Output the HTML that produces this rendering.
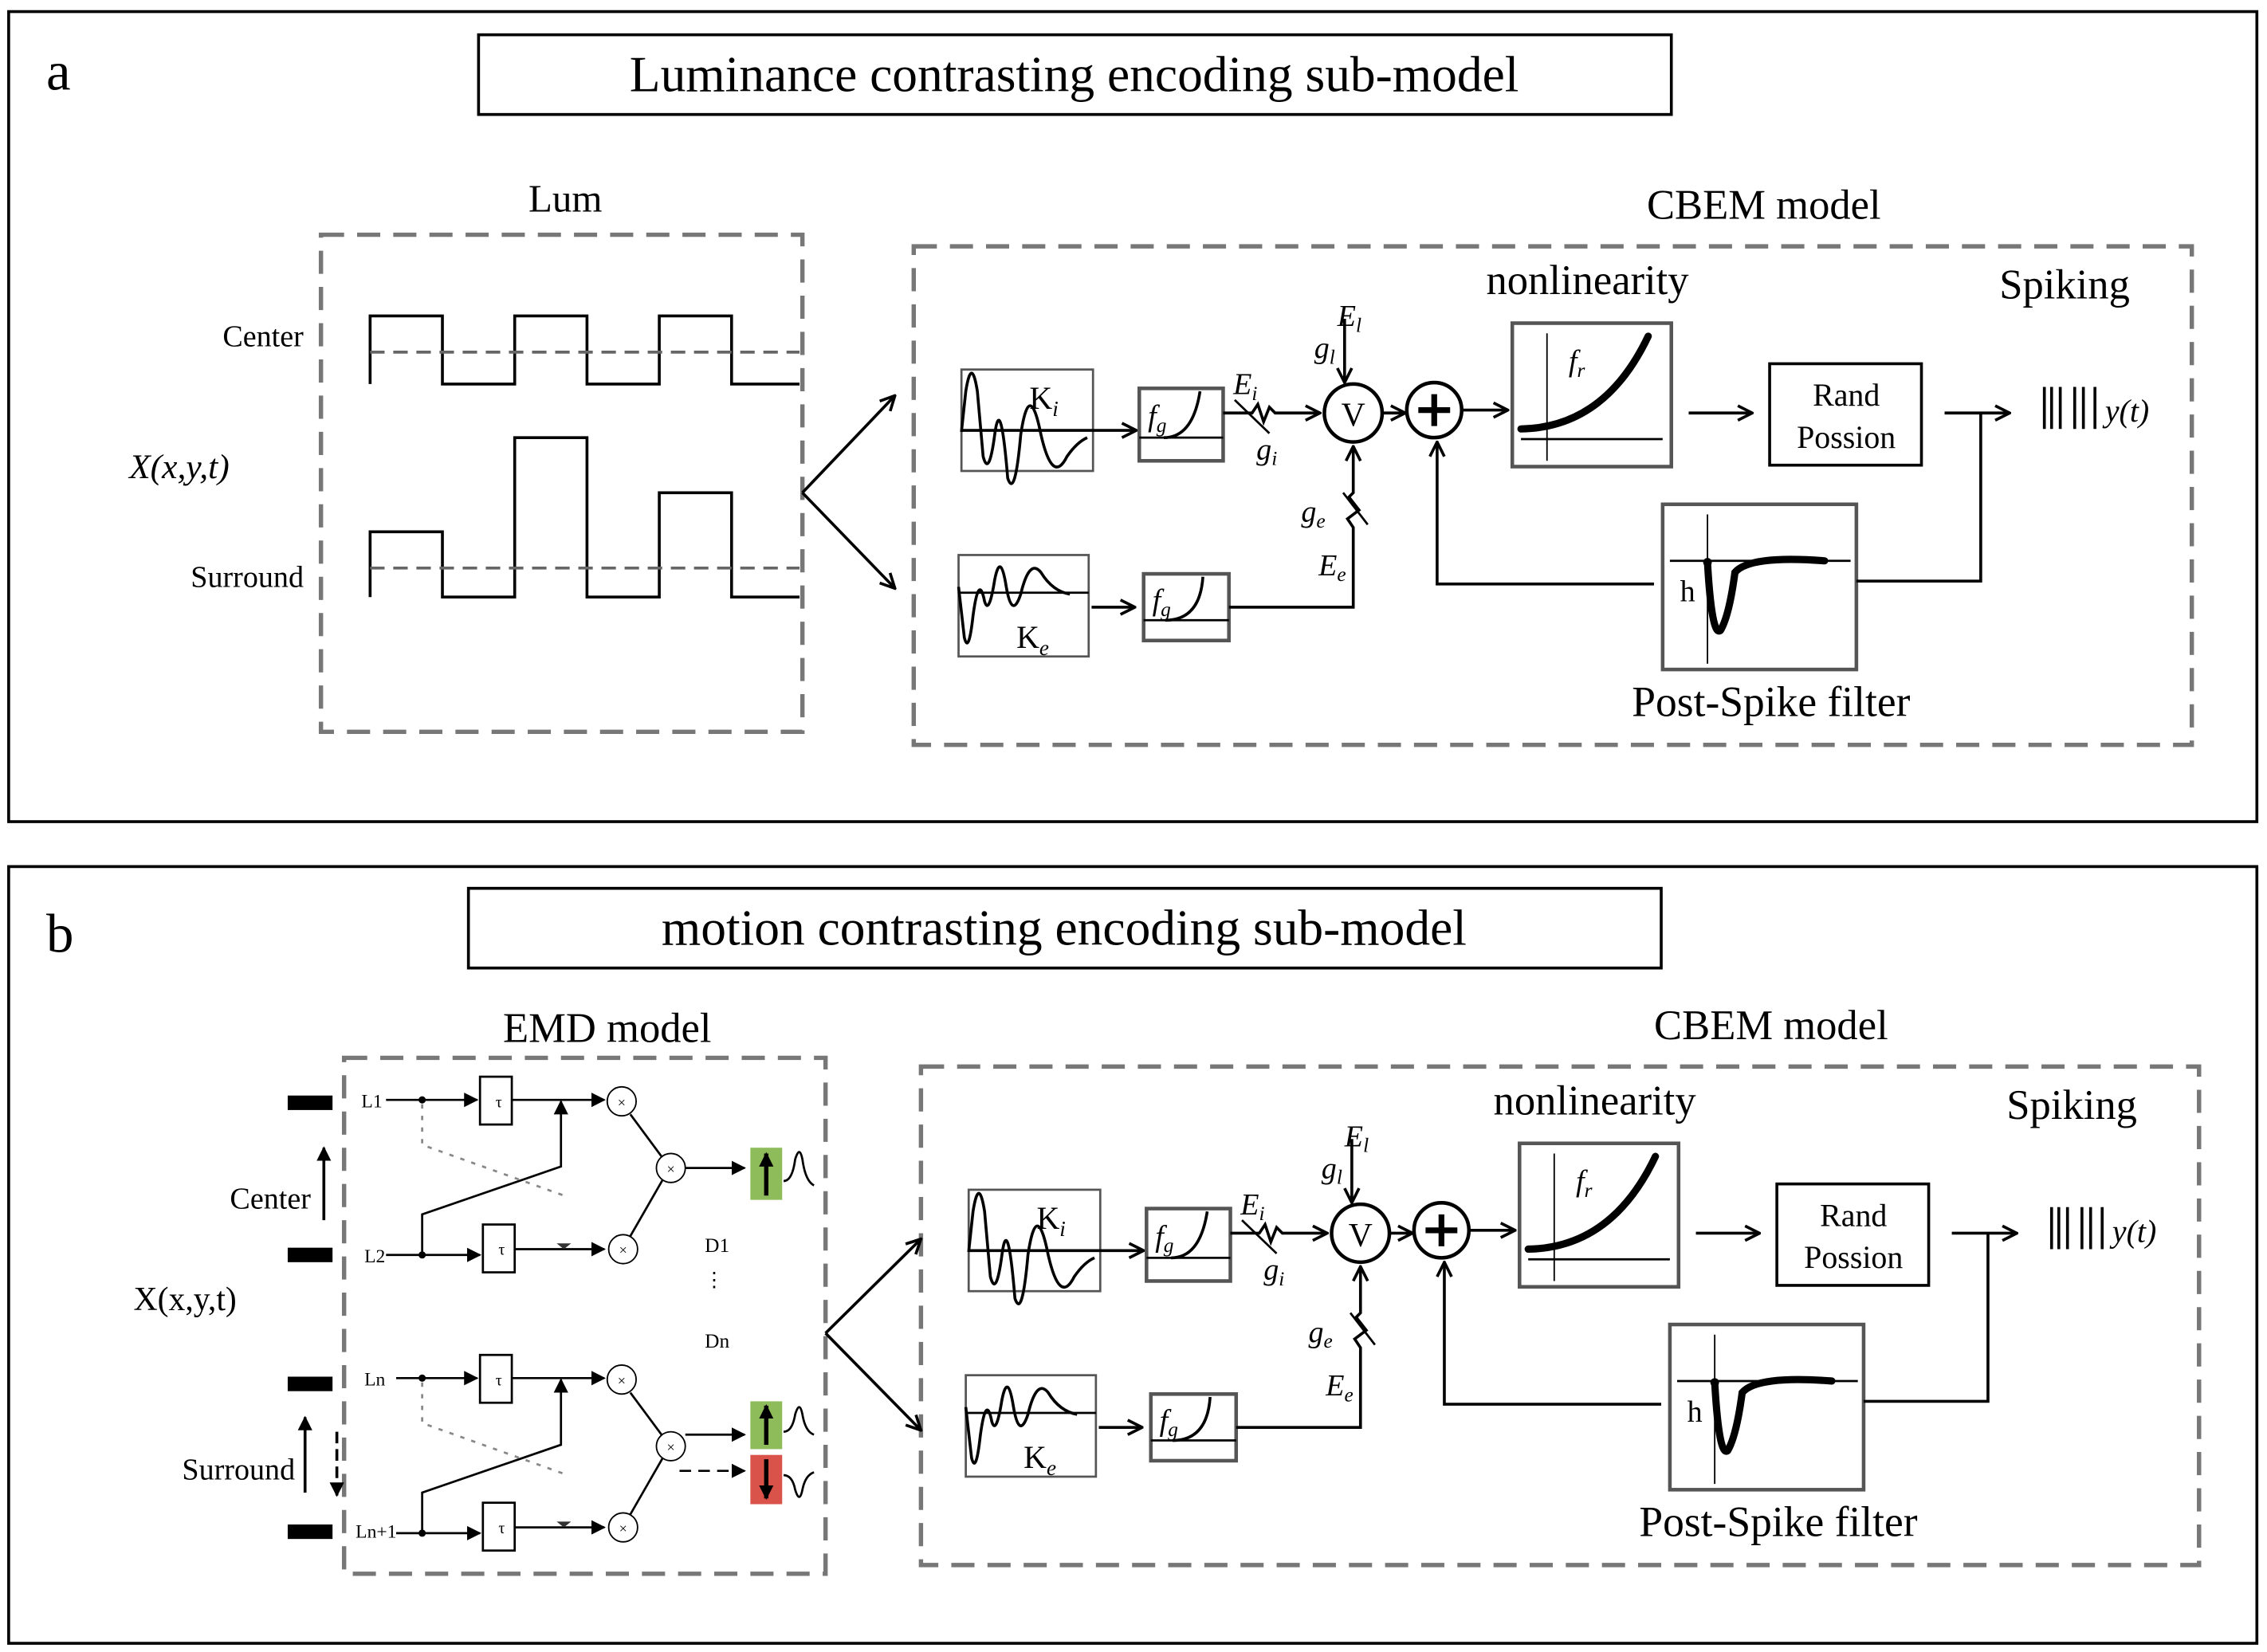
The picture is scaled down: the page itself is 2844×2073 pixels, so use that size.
<!DOCTYPE html>
<html><head><meta charset="utf-8"><style>
html,body{margin:0;padding:0;background:#fff;}
svg{display:block;}
text{font-family:"Liberation Serif",serif;fill:#000;}
</style></head><body>
<svg width="2844" height="2073" viewBox="0 0 1568 1140" preserveAspectRatio="none" xmlns="http://www.w3.org/2000/svg">
<defs>
<marker id="oa" viewBox="0 0 12 12" refX="11" refY="6" markerWidth="12" markerHeight="12" markerUnits="userSpaceOnUse" orient="auto"><path d="M1,1 L11,6 L1,11" fill="none" stroke="#000" stroke-width="2"/></marker>
<marker id="fa" viewBox="0 0 10 10" refX="9" refY="5" markerWidth="10" markerHeight="10" markerUnits="userSpaceOnUse" orient="auto"><path d="M0,0 L10,5 L0,10 z" fill="#000"/></marker>
</defs>
<rect x="0" y="0" width="1568" height="1140" fill="#fff"/>

<!-- PANEL A -->
<rect x="6" y="8" width="1555" height="559" fill="none" stroke="#000" stroke-width="2"/>
<text x="32" y="62" font-size="38">a</text>
<rect x="331" y="24" width="825" height="55" fill="none" stroke="#000" stroke-width="2"/>
<text x="743" y="63" font-size="35" text-anchor="middle">Luminance contrasting encoding sub-model</text>

<text x="391" y="146" font-size="27" text-anchor="middle">Lum</text>
<rect x="222" y="162" width="333" height="343" fill="none" stroke="#777" stroke-width="3" stroke-dasharray="16,9"/>
<text x="182" y="239" font-size="21" text-anchor="middle">Center</text>
<text x="124" y="330" font-size="24" font-style="italic" text-anchor="middle">X(x,y,t)</text>
<text x="171" y="405" font-size="21" text-anchor="middle">Surround</text>
<polyline points="256,265 256,218 306,218 306,265 356,265 356,218 406,218 406,265 456,265 456,218 506,218 506,265 553,265" fill="none" stroke="#000" stroke-width="2"/>
<line x1="256" y1="243" x2="553" y2="243" stroke="#666" stroke-width="2" stroke-dasharray="10,6"/>
<polyline points="256,412 256,367 306,367 306,412 356,412 356,302 406,302 406,412 456,412 456,340 506,340 506,412 553,412" fill="none" stroke="#000" stroke-width="2"/>
<line x1="256" y1="392" x2="553" y2="392" stroke="#666" stroke-width="2" stroke-dasharray="10,6"/>
<line x1="555" y1="340" x2="619" y2="273" stroke="#000" stroke-width="2" marker-end="url(#oa)"/>
<line x1="555" y1="340" x2="619" y2="406" stroke="#000" stroke-width="2" marker-end="url(#oa)"/>

<g id="cbem">
<text x="1220" y="151" font-size="29" text-anchor="middle">CBEM model</text>
<rect x="632" y="170" width="884" height="344" fill="none" stroke="#777" stroke-width="3" stroke-dasharray="16,9"/>
<text x="1098" y="203" font-size="29" text-anchor="middle">nonlinearity</text>
<text x="1428" y="206" font-size="29" text-anchor="middle">Spiking</text>
<!-- Ki -->
<rect x="665" y="255" width="91" height="70" fill="none" stroke="#555" stroke-width="1.5"/>
<path d="M665,298 L668,270 Q672,245 676,270 L680,315 Q684,330 688,300 Q692,270 697,330 Q702,345 706,300 Q712,260 720,300 Q728,335 738,315 Q745,305 752,302" fill="none" stroke="#000" stroke-width="2"/>
<line x1="665" y1="297" x2="786" y2="297" stroke="#000" stroke-width="2" marker-end="url(#oa)"/>
<text x="712" y="282" font-size="22">K<tspan font-size="15" font-style="italic" dy="5">i</tspan></text>
<rect x="788" y="268" width="58" height="50" fill="none" stroke="#555" stroke-width="2.5"/>
<line x1="788" y1="302" x2="846" y2="302" stroke="#000" stroke-width="1.5"/>
<path d="M805,302 Q825,302 830,270" fill="none" stroke="#000" stroke-width="2"/>
<text x="794" y="294" font-size="21" font-style="italic">f<tspan font-size="14" dy="4">g</tspan></text>
<polyline points="846,285 866,285 870,279 874,291 878,281 882,285 913,285" fill="none" stroke="#000" stroke-width="2" marker-end="url(#oa)"/>
<line x1="854" y1="276" x2="878" y2="299" stroke="#000" stroke-width="1.5"/>
<text x="853" y="272" font-size="21" font-style="italic">E<tspan font-size="14" dy="4">i</tspan></text>
<text x="869" y="317" font-size="21" font-style="italic">g<tspan font-size="14" dy="4">i</tspan></text>
<circle cx="936" cy="285" r="20" fill="none" stroke="#000" stroke-width="2.5"/>
<text x="936" y="294" font-size="23" text-anchor="middle">V</text>
<line x1="930" y1="220" x2="930" y2="264" stroke="#000" stroke-width="2" marker-end="url(#oa)"/>
<text x="925" y="225" font-size="21" font-style="italic">E<tspan font-size="14" dy="4">l</tspan></text>
<text x="909" y="247" font-size="21" font-style="italic">g<tspan font-size="14" dy="4">l</tspan></text>
<line x1="957" y1="285" x2="972" y2="285" stroke="#000" stroke-width="2" marker-end="url(#oa)"/>
<circle cx="992" cy="283" r="19" fill="none" stroke="#000" stroke-width="2.5"/>
<line x1="981" y1="283" x2="1003" y2="283" stroke="#000" stroke-width="4"/>
<line x1="992" y1="272" x2="992" y2="294" stroke="#000" stroke-width="4"/>
<line x1="1011" y1="283" x2="1043" y2="283" stroke="#000" stroke-width="2" marker-end="url(#oa)"/>
<rect x="1046" y="223" width="110" height="99" fill="none" stroke="#555" stroke-width="2.5"/>
<line x1="1070" y1="230" x2="1070" y2="318" stroke="#000" stroke-width="1"/>
<line x1="1052" y1="303" x2="1150" y2="303" stroke="#000" stroke-width="1.5"/>
<path d="M1052,296 Q1110,295 1140,232" fill="none" stroke="#000" stroke-width="5" stroke-linecap="round"/>
<text x="1085" y="256" font-size="21" font-style="italic">f<tspan font-size="14" dy="4">r</tspan></text>
<line x1="1168" y1="285" x2="1212" y2="285" stroke="#000" stroke-width="2" marker-end="url(#oa)"/>
<rect x="1224" y="251" width="105" height="70" fill="none" stroke="#000" stroke-width="2"/>
<text x="1277" y="280" font-size="22" text-anchor="middle">Rand</text>
<text x="1277" y="309" font-size="22" text-anchor="middle">Possion</text>
<line x1="1345" y1="285" x2="1390" y2="285" stroke="#000" stroke-width="2" marker-end="url(#oa)"/>
<g stroke="#000" stroke-width="2"><line x1="1414" y1="267" x2="1414" y2="296"/><line x1="1419" y1="267" x2="1419" y2="296"/><line x1="1425" y1="267" x2="1425" y2="296"/><line x1="1435" y1="267" x2="1435" y2="296"/><line x1="1441" y1="267" x2="1441" y2="296"/><line x1="1449" y1="267" x2="1449" y2="296"/></g>
<text x="1456" y="291" font-size="22" font-style="italic">y(t)</text>
<!-- post spike -->
<rect x="1150" y="348" width="134" height="114" fill="none" stroke="#555" stroke-width="2.5"/>
<line x1="1155" y1="387" x2="1280" y2="387" stroke="#000" stroke-width="1.5"/>
<line x1="1181" y1="355" x2="1181" y2="458" stroke="#000" stroke-width="1"/>
<path d="M1181,388 Q1184,440 1190,435 Q1196,425 1200,395 Q1210,383 1262,387" fill="none" stroke="#000" stroke-width="5" stroke-linecap="round"/>
<circle cx="1181" cy="388" r="3"/>
<text x="1162" y="415" font-size="21">h</text>
<text x="1225" y="494" font-size="29.5" text-anchor="middle">Post-Spike filter</text>
<polyline points="1144,403 994,403 994,305" fill="none" stroke="#000" stroke-width="2" marker-end="url(#oa)"/>
<polyline points="1284,401 1370,401 1370,285" fill="none" stroke="#000" stroke-width="2"/>
<!-- Ke -->
<rect x="663" y="383" width="90" height="70" fill="none" stroke="#555" stroke-width="1.5"/>
<path d="M663,405 L667,440 Q670,452 673,425 Q677,395 681,415 Q684,425 688,400 Q692,380 696,405 Q700,428 706,410 Q712,385 720,395 Q728,408 740,410" fill="none" stroke="#000" stroke-width="2"/>
<line x1="663" y1="409" x2="753" y2="409" stroke="#000" stroke-width="1.5"/>
<text x="703" y="447" font-size="22">K<tspan font-size="15" font-style="italic" dy="5">e</tspan></text>
<line x1="755" y1="419" x2="785" y2="419" stroke="#000" stroke-width="2" marker-end="url(#oa)"/>
<rect x="791" y="396" width="59" height="46" fill="none" stroke="#555" stroke-width="2.5"/>
<line x1="791" y1="428" x2="850" y2="428" stroke="#000" stroke-width="1.5"/>
<path d="M806,428 Q830,428 832,398" fill="none" stroke="#000" stroke-width="2"/>
<text x="797" y="421" font-size="21" font-style="italic">f<tspan font-size="14" dy="4">g</tspan></text>
<polyline points="850,419 936,419 936,364 932,358 940,352 933,343 936,340 936,308" fill="none" stroke="#000" stroke-width="2" marker-end="url(#oa)"/>
<line x1="929" y1="340" x2="946" y2="362" stroke="#000" stroke-width="1.5"/>
<text x="900" y="360" font-size="21" font-style="italic">g<tspan font-size="14" dy="4">e</tspan></text>
<text x="912" y="397" font-size="21" font-style="italic">E<tspan font-size="14" dy="4">e</tspan></text>
</g>

<!-- PANEL B -->
<rect x="6" y="598" width="1555" height="536" fill="none" stroke="#000" stroke-width="2"/>
<text x="32" y="657" font-size="38">b</text>
<rect x="324" y="613" width="825" height="55" fill="none" stroke="#000" stroke-width="2"/>
<text x="736" y="652" font-size="35" text-anchor="middle">motion contrasting encoding sub-model</text>
<g transform="translate(5,566)">
<use href="#cbem"/>
</g>

<text x="420" y="719" font-size="29" text-anchor="middle">EMD model</text>
<rect x="238" y="730" width="333" height="356" fill="none" stroke="#777" stroke-width="3" stroke-dasharray="16,9"/>
<text x="187" y="834" font-size="21" text-anchor="middle">Center</text>
<text x="128" y="904" font-size="23" text-anchor="middle">X(x,y,t)</text>
<text x="165" y="1021" font-size="21" text-anchor="middle">Surround</text>
<line x1="224" y1="842" x2="224" y2="792" stroke="#000" stroke-width="2" marker-end="url(#fa)"/>
<line x1="211" y1="1030" x2="211" y2="978" stroke="#000" stroke-width="2" marker-end="url(#fa)"/>
<line x1="233" y1="988" x2="233" y2="1032" stroke="#000" stroke-width="2" stroke-dasharray="8,4" marker-end="url(#fa)"/>
<g fill="#000">
<rect x="199" y="756" width="31" height="10"/><rect x="199" y="861" width="31" height="10"/>
<rect x="199" y="950" width="31" height="10"/><rect x="199" y="1052" width="31" height="10"/>
</g>
<g id="emd">
<text x="250" y="764" font-size="13">L1</text>
<text x="252" y="871" font-size="13">L2</text>
<line x1="267" y1="759" x2="330" y2="759" stroke="#000" stroke-width="1.5" marker-end="url(#fa)"/>
<line x1="267" y1="866" x2="332" y2="866" stroke="#000" stroke-width="1.5" marker-end="url(#fa)"/>
<circle cx="292" cy="759" r="2.5"/><circle cx="292" cy="866" r="2.5"/>
<rect x="332" y="743" width="22" height="33" fill="#fff" stroke="#000" stroke-width="1.5"/>
<rect x="334" y="845" width="22" height="33" fill="#fff" stroke="#000" stroke-width="1.5"/>
<text x="345" y="764" font-size="11" text-anchor="middle">τ</text>
<text x="347" y="866" font-size="11" text-anchor="middle">τ</text>
<line x1="354" y1="759" x2="418" y2="759" stroke="#000" stroke-width="1.5" marker-end="url(#fa)"/>
<line x1="356" y1="862" x2="418" y2="862" stroke="#000" stroke-width="1.5" marker-end="url(#fa)"/>
<polyline points="292,866 292,838 388,805 388,760" fill="none" stroke="#000" stroke-width="1.5" marker-end="url(#fa)"/>
<polyline points="292,762 292,790 390,825" fill="none" stroke="#888" stroke-width="1.5" stroke-dasharray="3,5"/>
<path d="M385,858 L395,858 L390,862z" fill="#333"/>
<circle cx="430" cy="760" r="10" fill="#fff" stroke="#000" stroke-width="1"/>
<circle cx="431" cy="862" r="10" fill="#fff" stroke="#000" stroke-width="1"/>
<text x="430" y="764" font-size="10" text-anchor="middle">×</text>
<text x="431" y="866" font-size="10" text-anchor="middle">×</text>
<line x1="436" y1="769" x2="459" y2="800" stroke="#000" stroke-width="1.5"/>
<line x1="436" y1="853" x2="459" y2="813" stroke="#000" stroke-width="1.5"/>
<circle cx="464" cy="806" r="10" fill="#fff" stroke="#000" stroke-width="1"/>
<text x="464" y="810" font-size="10" text-anchor="middle">×</text>
</g>
<g transform="translate(0,192)">
<use href="#emd"/>
</g>
<rect x="244" y="944" width="30" height="24" fill="#fff"/><text x="252" y="956" font-size="13">Ln</text>
<rect x="240" y="1048" width="34" height="16" fill="#fff"/><text x="246" y="1061" font-size="13">Ln+1</text>
<!-- outputs -->
<line x1="474" y1="806" x2="515" y2="806" stroke="#000" stroke-width="1.5" marker-end="url(#fa)"/>
<rect x="519" y="792" width="22" height="36" fill="#8fbc5a"/>
<line x1="530" y1="825" x2="530" y2="796" stroke="#000" stroke-width="3" marker-end="url(#fa)"/>
<path d="M542,815 Q548,815 550,800 Q553,790 555,800 Q557,815 563,818" fill="none" stroke="#000" stroke-width="1.5"/>
<line x1="474" y1="990" x2="515" y2="990" stroke="#000" stroke-width="1.5" marker-end="url(#fa)"/>
<line x1="470" y1="1015" x2="515" y2="1015" stroke="#000" stroke-width="1.5" stroke-dasharray="8,5" marker-end="url(#fa)"/>
<rect x="519" y="967" width="22" height="33" fill="#8fbc5a"/>
<line x1="530" y1="997" x2="530" y2="970" stroke="#000" stroke-width="3" marker-end="url(#fa)"/>
<path d="M542,988 Q548,988 550,976 Q553,966 555,976 Q557,988 563,990" fill="none" stroke="#000" stroke-width="1.5"/>
<rect x="519" y="1004" width="22" height="34" fill="#d9534a"/>
<line x1="530" y1="1007" x2="530" y2="1034" stroke="#000" stroke-width="3" marker-end="url(#fa)"/>
<path d="M542,1018 Q548,1018 550,1028 Q553,1038 555,1028 Q557,1018 563,1016" fill="none" stroke="#000" stroke-width="1.5"/>
<text x="496" y="864" font-size="14" text-anchor="middle">D1</text>
<text x="494" y="888" font-size="14" text-anchor="middle">⋮</text>
<text x="496" y="930" font-size="14" text-anchor="middle">Dn</text>
<line x1="571" y1="920" x2="637" y2="855" stroke="#000" stroke-width="2" marker-end="url(#oa)"/>
<line x1="571" y1="920" x2="637" y2="987" stroke="#000" stroke-width="2" marker-end="url(#oa)"/>
</svg>
</body></html>
